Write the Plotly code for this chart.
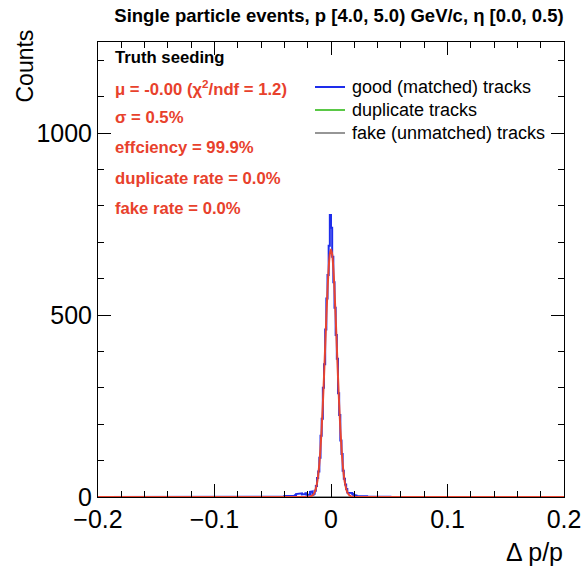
import plotly.graph_objects as go

# ---------------- data ----------------
bin_width = 0.001
x_min, x_max = -0.2, 0.2

# good (matched) tracks: counts in consecutive bins starting at core_start
core_start = -0.045
good_core_counts = [
    0, 1, 0, 2, 1,                       # -0.045 .. -0.041
    3, 2, 3, 2, 4, 3, 2, 4, 3, 5,        # -0.040 .. -0.031
    8, 9, 8, 9, 10, 7, 9, 8, 10, 6,      # -0.030 .. -0.021
    5, 6, 14, 15, 6, 9, 17, 30, 52, 70,  # -0.020 .. -0.011
    108, 168, 215, 300, 365, 460, 545, 610, 690, 775,   # -0.010 .. -0.001
    740, 660, 590, 520, 445, 380, 285, 225, 155, 118,   # 0.000 .. 0.009
    72, 50, 34, 22, 12, 11, 10, 11, 9, 6,               # 0.010 .. 0.019
    5, 4, 3, 4, 2, 3, 3, 2, 4, 2,        # 0.020 .. 0.029
    2, 1, 3, 2, 2, 1, 2, 3, 1, 2,        # 0.030 .. 0.039
    2, 1, 1, 2, 1, 3, 1, 1, 2, 1,        # 0.040 .. 0.049
    1, 0, 2, 1, 1, 0, 1, 2, 0, 1,        # 0.050 .. 0.059
    1, 0, 1, 0, 2, 0, 1, 0, 0, 1,        # 0.060 .. 0.069
]
# isolated single-count bins far in the tails (bin low edges)
tail_edges = [-0.176, -0.149, -0.131, -0.112, -0.088, -0.071, 0.091, 0.121, 0.136, 0.161, 0.172, 0.181]
tail_counts = [1, 1, 1, 1, 1, 1, 1, 1, 1, 1, 1, 1]

# duplicate and fake tracks: empty everywhere
duplicate_counts_total = 0
fake_counts_total = 0

# Gaussian fit curve
fit_x = [-0.2, -0.020, -0.019, -0.018, -0.017, -0.016, -0.015, -0.014, -0.013, -0.012, -0.011,
         -0.010, -0.009, -0.008, -0.007, -0.006, -0.005, -0.004, -0.003, -0.002, -0.001,
         0.000, 0.001, 0.002, 0.003, 0.004, 0.005, 0.006, 0.007, 0.008, 0.009,
         0.010, 0.011, 0.012, 0.013, 0.014, 0.015, 0.016, 0.017, 0.018, 0.019, 0.020, 0.2]
fit_y = [0, 0.2, 0.5, 1, 2, 4, 7.5, 13.5, 23, 38, 60,
         92, 135, 189, 255, 331, 413, 494, 568, 628, 667,
         680, 667, 628, 568, 494, 413, 331, 255, 189, 135,
         92, 60, 38, 23, 13.5, 7.5, 4, 2, 1, 0.5, 0.2, 0]

title_text = "Single particle events, p [4.0, 5.0) GeV/c, \u03b7 [0.0, 0.5)"
info_black = "Truth seeding"
info_red = [
    "\u03bc = -0.00 (\u03c7<sup>2</sup>/ndf = 1.2)",
    "\u03c3 = 0.5%",
    "effciency = 99.9%",
    "duplicate rate = 0.0%",
    "fake rate = 0.0%",
]
legend_names = ["good (matched) tracks", "duplicate tracks", "fake (unmatched) tracks"]

# ---------------- build histograms ----------------
nbins = int(round((x_max - x_min) / bin_width))
edges = [x_min + i * bin_width for i in range(nbins + 1)]
good = [0] * nbins
i0 = int(round((core_start - x_min) / bin_width))
for k, c in enumerate(good_core_counts):
    good[i0 + k] = c
for e, c in zip(tail_edges, tail_counts):
    good[int(round((e - x_min) / bin_width))] = c
dup = [duplicate_counts_total] * nbins
fake = [fake_counts_total] * nbins


def step(counts):
    xs, ys = [], []
    for i, c in enumerate(counts):
        xs += [edges[i], edges[i + 1]]
        ys += [c, c]
    return xs, ys


# ---------------- figure ----------------
W, H = 581, 570
L, R, T, B = 98, 564, 42, 497
pw, ph = R - L, B - T


def px(x):
    return (x - L) / pw


def py(y):
    return (B - y) / ph


BLUE = "rgb(30,45,235)"
GREEN = "rgb(90,200,70)"
GREY = "rgb(150,150,150)"
RED = "rgb(232,68,48)"
TXT_RED = "rgb(232,65,44)"
FONT = "Liberation Sans, Arial, Helvetica, sans-serif"
colors = [BLUE, GREEN, GREY]

fig = go.Figure()
for counts, col, nm in zip([good, dup, fake], colors, legend_names):
    sx, sy = step(counts)
    fig.add_trace(go.Scatter(x=sx, y=sy, mode="lines", line=dict(color=col, width=2),
                             name=nm, showlegend=False, cliponaxis=False))
fig.add_trace(go.Scatter(x=fit_x, y=fit_y, mode="lines", line=dict(color=RED, width=2, shape="spline"),
                         name="fit", showlegend=False, cliponaxis=False))

annotations = []
shapes = []
annotations.append(dict(text="<b>" + info_black + "</b>", x=px(113), y=py(58), xref="paper", yref="paper",
                        xanchor="left", yanchor="middle", showarrow=False,
                        font=dict(family=FONT, size=16.7, color="black")))
for j, t in enumerate(info_red):
    annotations.append(dict(text="<b>" + t + "</b>", x=px(113), y=py(88 + 30 * j), xref="paper", yref="paper",
                            xanchor="left", yanchor="middle", showarrow=False,
                            font=dict(family=FONT, size=16.7, color=TXT_RED)))
# legend (drawn by hand for exact placement)
for j, (nm, col) in enumerate(zip(legend_names, colors)):
    yy = py(87 + 23 * j)
    shapes.append(dict(type="line", xref="paper", yref="paper", x0=px(315), x1=px(345), y0=yy, y1=yy,
                       line=dict(color=col, width=2)))
    annotations.append(dict(text=nm, x=px(350), y=yy, xref="paper", yref="paper",
                            xanchor="left", yanchor="middle", showarrow=False,
                            font=dict(family=FONT, size=18, color="black")))
annotations.append(dict(text="Counts", x=px(24), y=py(28), xref="paper", yref="paper",
                        xanchor="center", yanchor="top", textangle=-90, showarrow=False,
                        font=dict(family=FONT, size=23, color="black")))
annotations.append(dict(text="\u0394 p/p", x=px(565), y=py(552), xref="paper", yref="paper",
                        xanchor="right", yanchor="middle", showarrow=False,
                        font=dict(family=FONT, size=25, color="black")))

fig.update_layout(
    width=W, height=H,
    margin=dict(l=L, r=W - R, t=T, b=H - B, autoexpand=False),
    paper_bgcolor="white", plot_bgcolor="white",
    title=dict(text="<b>" + title_text + "</b>", x=339 / W, y=1 - 16 / H, xref="container",
               xanchor="center", yanchor="middle", font=dict(family=FONT, size=18.5, color="black")),
    showlegend=False,
    annotations=annotations,
    shapes=shapes,
    xaxis=dict(range=[x_min, x_max], showgrid=False, zeroline=False, showline=True, linecolor="black",
               linewidth=1, mirror="ticks", ticks="inside", ticklen=13, tickcolor="black", automargin=False,
               ticklabeloverflow="allow",
               tickvals=[-0.2, -0.1, 0, 0.1, 0.2], ticktext=["\u22120.2", "\u22120.1", "0", "0.1", "0.2"],
               tickfont=dict(family=FONT, size=25, color="black"),
               minor=dict(dtick=0.02, tick0=0, ticks="inside", ticklen=6, tickcolor="black")),
    yaxis=dict(range=[0, 1250], showgrid=False, zeroline=False, showline=True, linecolor="black",
               linewidth=1, mirror="ticks", ticks="inside", ticklen=13, tickcolor="black", automargin=False,
               ticklabeloverflow="allow",
               tickvals=[0, 500, 1000], ticktext=["0", "500", "1000"],
               tickfont=dict(family=FONT, size=25, color="black"),
               minor=dict(dtick=100, tick0=0, ticks="inside", ticklen=6, tickcolor="black")),
)

fig.write_html("out.html")
